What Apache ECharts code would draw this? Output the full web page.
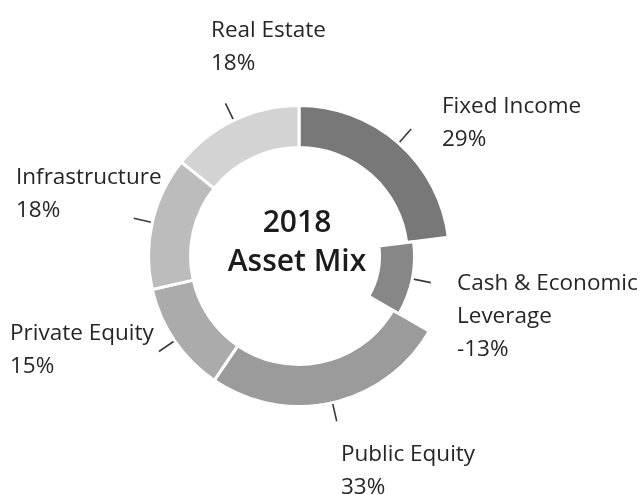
<!DOCTYPE html>
<html>
<head>
<meta charset="utf-8">
<script src="https://cdn.jsdelivr.net/npm/echarts@6/dist/echarts.min.js"></script>
<style>
  html, body { margin: 0; padding: 0; background: #fff; }
  #chart { width: 642px; height: 495px; }
</style>
</head>
<body>
<div id="chart"></div>
<script>
const categories = ['Fixed Income', 'Cash & Economic\nLeverage', 'Public Equity', 'Private Equity', 'Infrastructure', 'Real Estate'];
const values = [29, -13, 33, 15, 18, 18];
const colors = ['#787878', '#878787', '#9b9b9b', '#ababab', '#bcbcbc', '#d3d3d3'];
// where each label block sits: left x, middle y
const labelAnchors = [[442, 123], [457, 317], [341, 471], [10, 350], [16, 194], [211, 47]];

const FONT = '"Open Sans", "Noto Sans", sans-serif';

// negative slices go on the inner ring, the rest on the outer ring
function ringData(negative) {
  return categories.map((name, i) => {
    const onRing = (values[i] < 0) === negative;
    return {
      name: name,
      value: Math.abs(values[i]),
      itemStyle: onRing
        ? { color: colors[i], borderColor: '#fff', borderWidth: 3 }
        : { color: 'transparent', borderWidth: 0 },
      label: { show: onRing },
      labelLine: { show: onRing }
    };
  });
}

function pieSeries(radius, negative) {
  return {
    type: 'pie',
    center: [299, 256],
    radius: radius,
    startAngle: 90,
    clockwise: true,
    avoidLabelOverlap: false,
    silent: true,
    emphasis: { disabled: true },
    label: {
      position: 'outside',
      color: '#262626',
      fontFamily: FONT,
      fontSize: 22.5,
      lineHeight: 33,
      formatter: p => categories[p.dataIndex] + '\n' + values[p.dataIndex] + '%'
    },
    labelLine: {
      length: 19,
      length2: 0,
      lineStyle: { color: '#3a3a3a', width: 1.6 }
    },
    labelLayout: p => ({
      x: labelAnchors[p.dataIndex][0],
      y: labelAnchors[p.dataIndex][1],
      align: 'left',
      verticalAlign: 'middle',
      labelLinePoints: p.labelLinePoints
    }),
    data: ringData(negative)
  };
}

const chart = echarts.init(document.getElementById('chart'));
chart.setOption({
  animation: false,
  backgroundColor: '#fff',
  graphic: [{
    type: 'text',
    x: 297,
    y: 243,
    style: {
      text: '2018\nAsset Mix',
      fill: '#1c1c1c',
      fontFamily: FONT,
      fontWeight: 600,
      fontSize: 30,
      lineHeight: 39,
      align: 'center',
      verticalAlign: 'middle'
    }
  }],
  series: [
    pieSeries([108.5, 150.5], false),
    pieSeries([80.5, 115.5], true)
  ]
});
</script>
</body>
</html>
